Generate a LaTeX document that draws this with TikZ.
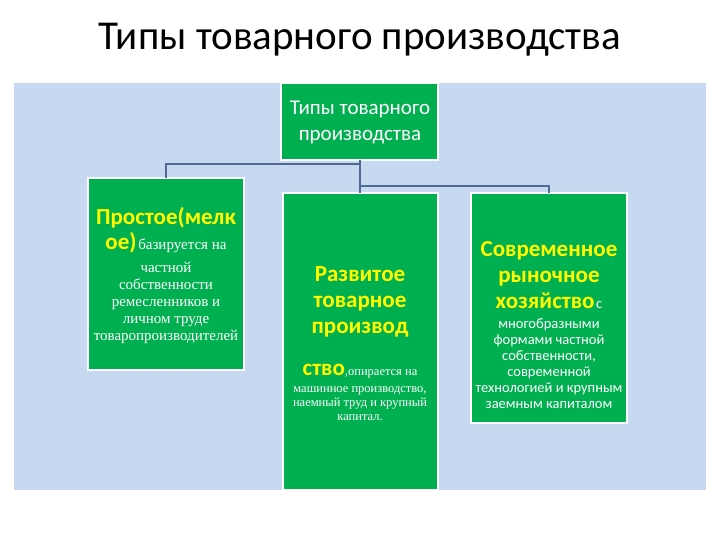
\documentclass[tikz,border=0pt]{standalone}
\usepackage{fontspec}
\setmainfont{Carlito}
\newfontfamily\serifx{Liberation Serif}
\definecolor{bg}{HTML}{C6D9F1}
\definecolor{gr}{HTML}{00B050}
\definecolor{ln}{HTML}{4F6A95}
\definecolor{yl}{HTML}{FFFF00}
\begin{document}
\begin{tikzpicture}[x=1pt,y=-1pt,
 box/.style={fill=gr,draw=white,line width=1.2pt},
 conn/.style={draw=ln,line width=1.8pt},
 ln/.style={inner sep=0pt,anchor=base,text=white},
 big/.style={ln,text=yl,font=\bfseries\fontsize{23}{27}\selectfont},
 ser/.style={ln,font=\serifx\fontsize{15}{17}\selectfont},
 sms/.style={ln,font=\serifx\fontsize{12.5}{14}\selectfont},
 sans/.style={ln,font=\fontsize{14.5}{16}\selectfont}]
\useasboundingbox (0,0) rectangle (720,540);
\fill[white] (0,0) rectangle (720,540);
\node[ln,text=black,font=\fontsize{41}{46}\selectfont] (title) at (360,50) {Типы товарного производства};
\fill[bg] (14,83) rectangle (706,490);
\draw[box] (281,83) rectangle (438,160);
\coordinate (tb) at (360,160);
\draw[box] (88,178) rectangle (244,370);
\draw[box] (283,193) rectangle (438,490);
\draw[box] (471,193) rectangle (627,423);
\coordinate (j1) at (360,164);
\coordinate (j2) at (360,186);
\draw[conn] (tb) -- (j1) -| (166,178);
\draw[conn] (j1) -- (360,193);
\draw[conn] (j2) -| (549,193);
\node[ln,font=\fontsize{21}{24}\selectfont] (t0a) at (360,115) {Типы товарного};
\node[ln,font=\fontsize{21}{24}\selectfont] (t0b) at (360,141) {производства};
% left
\node[big] (l1) at (166,225) {Простое(мелк};
\node[ln] (l2) at (166,249) {{\color{yl}\bfseries\fontsize{23}{27}\selectfont ое)}\,{\serifx\fontsize{15}{17}\selectfont базируется на}};
\node[ser] (l3) at (166,272) {частной};
\node[ser] (l4) at (166,289) {собственности};
\node[ser] (l5) at (166,306) {ремесленников и};
\node[ser] (l6) at (166,323) {личном труде};
\node[ser] (l7) at (166,340) {товаропроизводителей};
% middle
\node[big] (m1) at (360,281) {Развитое};
\node[big] (m2) at (360,307) {товарное};
\node[big] (m3) at (360,333) {производ};
\node[ln] (m4) at (360,375) {{\color{yl}\bfseries\fontsize{23}{27}\selectfont ство}{\serifx\fontsize{12.5}{14}\selectfont ,опирается на}};
\node[sms] (m5) at (360,392) {машинное производство,};
\node[sms] (m6) at (360,406) {наемный труд и крупный};
\node[sms] (m7) at (360,420) {капитал.};
% right
\node[big] (r1) at (549,256) {Современное};
\node[big] (r2) at (549,282) {рыночное};
\node[ln] (r3) at (549,308) {{\color{yl}\bfseries\fontsize{23}{27}\selectfont хозяйство}\,{\fontsize{14.5}{16}\selectfont с}};
\node[sans] (r4) at (549,328) {многобразными};
\node[sans] (r5) at (549,344) {формами частной};
\node[sans] (r6) at (549,360) {собственности,};
\node[sans] (r7) at (549,376) {современной};
\node[sans] (r8) at (549,392) {технологией и крупным};
\node[sans] (r9) at (549,408) {заемным капиталом};
\end{tikzpicture}
\end{document}
